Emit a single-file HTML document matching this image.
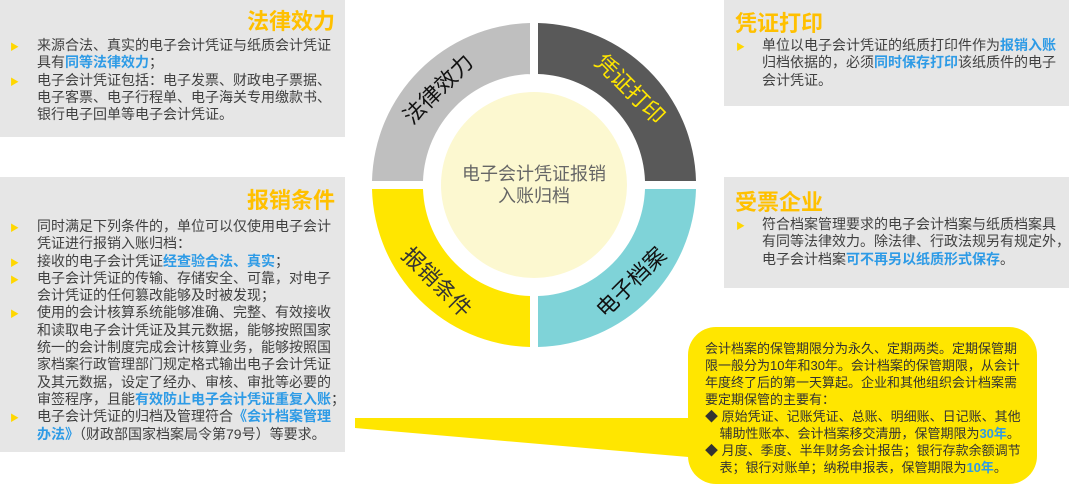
<!DOCTYPE html>
<html><head><meta charset="utf-8"><style>
body{margin:0;width:1080px;height:484px;position:relative;overflow:hidden;background:#fff;font-family:"Liberation Sans","Noto Sans CJK SC",sans-serif;color:#404040}
.box{position:absolute;background:#e6e6e6}
.t{position:absolute;font-size:22px;color:#FFC000;line-height:26px;white-space:nowrap;font-weight:bold}
.p{position:absolute;font-size:14px;line-height:17.3px;white-space:nowrap}
.b{color:#2E9BE6;font-weight:bold}
.bul{position:absolute;color:#FFD700;font-size:9px}
.c{position:absolute;font-size:13px;line-height:17px;white-space:nowrap;color:#333}
</style></head><body>
<div class="box" style="left:0;top:0;width:345px;height:137px"></div>
<div class="box" style="left:0;top:177px;width:345px;height:275px"></div>
<div class="box" style="left:724px;top:0;width:345px;height:106px"></div>
<div class="box" style="left:724px;top:177px;width:345px;height:111px"></div>

<div class="t" style="right:745px;top:9px">法律效力</div>
<div class="p" style="left:37px;top:37px">来源合法、真实的电子会计凭证与纸质会计凭证<br>具有<span class="b">同等法律效力</span>；<br>电子会计凭证包括：电子发票、财政电子票据、<br>电子客票、电子行程单、电子海关专用缴款书、<br>银行电子回单等电子会计凭证。</div>
<div class="bul" style="left:10px;top:40px">▶</div><div class="bul" style="left:10px;top:75px">▶</div>

<div class="t" style="right:745px;top:188px">报销条件</div>
<div class="p" style="left:37px;top:218px">同时满足下列条件的，单位可以仅使用电子会计<br>凭证进行报销入账归档：<br>接收的电子会计凭证<span class="b">经查验合法、真实</span>；<br>电子会计凭证的传输、存储安全、可靠，对电子<br>会计凭证的任何篡改能够及时被发现；<br>使用的会计核算系统能够准确、完整、有效接收<br>和读取电子会计凭证及其元数据，能够按照国家<br>统一的会计制度完成会计核算业务，能够按照国<br>家档案行政管理部门规定格式输出电子会计凭证<br>及其元数据，设定了经办、审核、审批等必要的<br>审签程序，且能<span class="b">有效防止电子会计凭证重复入账</span>；<br>电子会计凭证的归档及管理符合<span class="b">《会计档案管理<br>办法》</span>（财政部国家档案局令第79号）等要求。</div>
<div class="bul" style="left:10px;top:221px">▶</div><div class="bul" style="left:10px;top:256px">▶</div><div class="bul" style="left:10px;top:273px">▶</div><div class="bul" style="left:10px;top:307px">▶</div><div class="bul" style="left:10px;top:411px">▶</div>

<div class="t" style="left:735px;top:11px">凭证打印</div>
<div class="p" style="left:762px;top:37px">单位以电子会计凭证的纸质打印件作为<span class="b">报销入账</span><br>归档依据的，必须<span class="b">同时保存打印</span>该纸质件的电子<br>会计凭证。</div>
<div class="bul" style="left:736px;top:40px">▶</div>

<div class="t" style="left:735px;top:190px">受票企业</div>
<div class="p" style="left:762px;top:216px">符合档案管理要求的电子会计档案与纸质档案具<br>有同等法律效力。除法律、行政法规另有规定外，<br>电子会计档案<span class="b">可不再另以纸质形式保存</span>。</div>
<div class="bul" style="left:736px;top:219px">▶</div>

<svg style="position:absolute;left:0;top:0" width="1080" height="484">
<g fill="#FFE600">
<polygon points="355,418 700,418 700,458 355,428"/>
<rect x="688" y="327" width="349" height="157" rx="28"/>
</g>
<g transform="translate(534,185)">
<path d="M-4,-4 L-4,-162 A162,162 0 0 0 -162,-4 L-111,-4 A111,111 0 0 1 -4,-111 Z" fill="#bfbfbf"/>
<path d="M4,-4 L4,-162 A162,162 0 0 1 162,-4 L111,-4 A111,111 0 0 0 4,-111 Z" fill="#595959"/>
<path d="M-4,4 L-4,162 A162,162 0 0 1 -162,4 L-111,4 A111,111 0 0 0 -4,111 Z" fill="#FFE600"/>
<path d="M4,4 L4,162 A162,162 0 0 0 162,4 L111,4 A111,111 0 0 1 4,111 Z" fill="#7fd3d8"/>
<circle r="93" fill="#fcf8d0"/>
<text x="0" y="-5" text-anchor="middle" font-size="18" fill="#666" font-family="Liberation Sans,Noto Sans CJK SC,sans-serif">电子会计凭证报销</text>
<text x="0" y="17" text-anchor="middle" font-size="18" fill="#666" font-family="Liberation Sans,Noto Sans CJK SC,sans-serif">入账归档</text>
<g font-size="22" font-family="Liberation Sans,Noto Sans CJK SC,sans-serif" text-anchor="middle">
<text transform="rotate(-45) translate(0,-128)" fill="#111">法律效力</text>
<text transform="rotate(45) translate(0,-128)" fill="#FFE600">凭证打印</text>
<text transform="rotate(45) translate(0,145)" fill="#333">报销条件</text>
<text transform="rotate(-45) translate(0,145)" fill="#111">电子档案</text>
</g>
</g>
</svg>

<div class="c" style="left:705px;top:340px">会计档案的保管期限分为永久、定期两类。定期保管期<br>限一般分为10年和30年。会计档案的保管期限，从会计<br>年度终了后的第一天算起。企业和其他组织会计档案需<br>要定期保管的主要有：<br>◆ 原始凭证、记账凭证、总账、明细账、日记账、其他<br>&nbsp;&nbsp;&nbsp;&nbsp;辅助性账本、会计档案移交清册，保管期限为<span class="b">30年</span>。<br>◆ 月度、季度、半年财务会计报告；银行存款余额调节<br>&nbsp;&nbsp;&nbsp;&nbsp;表；银行对账单；纳税申报表，保管期限为<span class="b">10年</span>。</div>
</body></html>
